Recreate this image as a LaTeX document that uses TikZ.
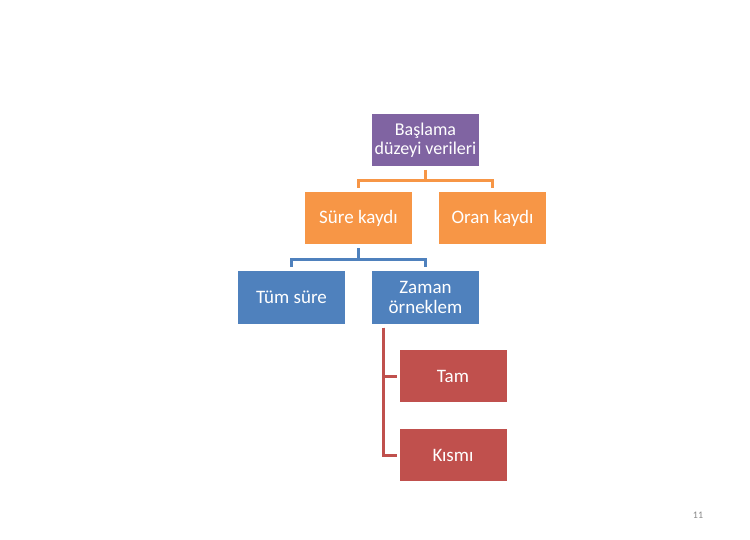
\documentclass[tikz,border=0pt]{standalone}
\usepackage{fontspec}
\setmainfont{Carlito}
\usetikzlibrary{positioning,calc}
\definecolor{purplebox}{HTML}{8064A2}
\definecolor{orangebox}{HTML}{F79646}
\definecolor{bluebox}{HTML}{4F81BD}
\definecolor{redbox}{HTML}{C0504D}
\definecolor{pagegray}{HTML}{898989}

\begin{document}
\begin{tikzpicture}[x=1pt,y=-1pt,
				box/.style={minimum width=107pt,minimum height=52pt,inner sep=0pt,outer sep=0pt,rectangle,
					text=white,align=center,font=\fontsize{19}{20}\selectfont,node distance=27pt},
				link/.style={line width=3pt,shorten <=4pt,shorten >=4pt}]
				\useasboundingbox (0,0) rectangle (750,540);
				\node[box,fill=purplebox,font=\fontsize{18}{19.5}\selectfont] (BASE) at (425.5,140) {Başlama\\düzeyi verileri};
				\node[box,fill=orangebox] (SURE)  at (358.5,218.5)   {Süre kaydı};
				\node[box,fill=orangebox] (ORAN)  [right=of SURE]    {Oran kaydı};
				\node[box,fill=bluebox]   (TUM)   at (291.5,297.5)   {Tüm süre};
				\node[box,fill=bluebox]   (ZAMAN) [right=of TUM]     {Zaman\\örneklem};
				\node[box,fill=redbox]    (TAM)   at (453,376)       {Tam};
				\node[box,fill=redbox]    (KISMI) [below=of TAM]     {Kısmı};
				\node[text=pagegray,font=\fontsize{10}{12}\selectfont] (PAGE) at (698,515) {11};

				\draw[link,orangebox] (BASE.south) -- ++(0,15) -| (SURE.north);
				\draw[link,orangebox] (BASE.south) -- ++(0,15) -| (ORAN.north);
				\draw[link,bluebox]   (SURE.south) -- ++(0,15) -| (TUM.north);
				\draw[link,bluebox]   (SURE.south) -- ++(0,15) -| (ZAMAN.north);
				\draw[link,redbox,shorten >=2.5pt] ([xshift=11pt]ZAMAN.south west) |- (TAM.west);
				\draw[link,redbox,shorten >=2.5pt] ([xshift=11pt]ZAMAN.south west) |- (KISMI.west);
			\end{tikzpicture}
\end{document}
